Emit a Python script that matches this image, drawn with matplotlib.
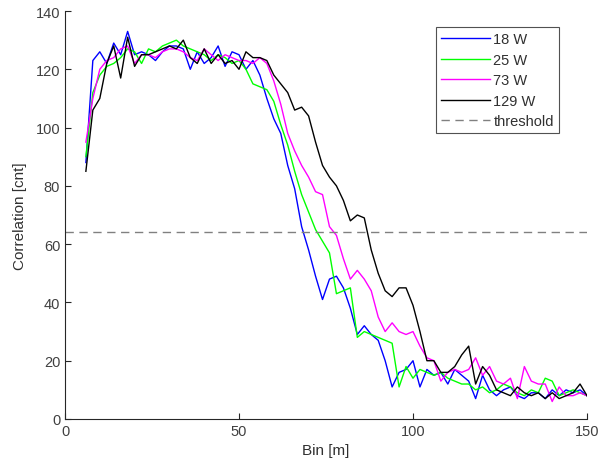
import numpy as np
import matplotlib
matplotlib.use("Agg")
import matplotlib.pyplot as plt

plt.rcParams['font.family'] = ['Liberation Sans', 'DejaVu Sans']

# bin positions [m]
bins = np.arange(6, 151, 2)

# correlation per power level
corr_18w = [88, 123, 126, 122, 129, 125, 133, 125, 126, 125, 123, 126, 128, 128, 127, 120,
            126, 122, 124, 128, 121, 126, 125, 120, 123, 118, 110, 103, 98, 87, 79, 66,
            58, 49, 41, 48, 49, 45, 38, 29, 32, 29, 27, 20, 11, 16, 17, 20, 11, 17,
            15, 16, 12, 17, 15, 13, 7, 15, 10, 8, 10, 11, 8, 7, 9, 9,
            7, 10, 8, 10, 9, 10, 8]
corr_25w = [90, 112, 118, 121, 122, 124, 127, 126, 122, 127, 126, 128, 129, 130, 128, 127,
            126, 125, 123, 125, 124, 122, 123, 120, 115, 114, 113, 109, 101, 94, 85, 77,
            71, 65, 61, 57, 43, 44, 45, 28, 30, 29, 28, 27, 26, 11, 18, 14, 17, 16,
            15, 16, 14, 13, 12, 12, 10, 11, 9, 10, 12, 11, 9, 8, 10, 9,
            14, 13, 8, 9, 10, 9, 8]
corr_73w = [95, 110, 120, 123, 124, 127, 128, 122, 125, 125, 124, 126, 127, 127, 126, 124,
            123, 127, 125, 123, 125, 124, 123, 123, 122, 124, 122, 116, 108, 98, 92, 87,
            83, 78, 77, 66, 63, 55, 48, 51, 48, 44, 35, 30, 33, 30, 29, 30, 25, 21,
            20, 13, 16, 17, 16, 17, 21, 15, 18, 13, 12, 14, 7, 18, 13, 12,
            12, 6, 11, 8, 8, 9, 8]
corr_129w = [85, 106, 110, 122, 128, 117, 131, 121, 125, 125, 126, 127, 128, 127, 130, 124,
             122, 127, 122, 125, 122, 123, 120, 126, 124, 124, 123, 118, 115, 112, 106, 107,
             104, 95, 87, 83, 80, 75, 68, 70, 69, 58, 50, 44, 42, 45, 45, 39, 30, 20,
             20, 16, 16, 18, 22, 25, 12, 18, 15, 10, 9, 8, 11, 9, 8, 9,
             7, 9, 7, 8, 9, 12, 8]
threshold = 64

series = [("18 W", corr_18w, "#0000ff"),
          ("25 W", corr_25w, "#00ff00"),
          ("73 W", corr_73w, "#ff00ff"),
          ("129 W", corr_129w, "#000000")]

fig = plt.figure(figsize=(5.99, 4.77), dpi=100)
ax = fig.add_axes([65/599, 57/477, 522/599, 408/477])

for label, vals, col in series:
    ax.plot(bins, vals, color=col, lw=1.0, label=label)
ax.axhline(threshold, color="#808080", ls=(0, (6, 4)), lw=1.0, label="threshold")

ax.set_xlim(0, 150)
ax.set_ylim(0, 140)
ax.set_xticks([0, 50, 100, 150])
ax.set_yticks(np.arange(0, 141, 20))
ax.spines['top'].set_visible(False)
ax.spines['right'].set_visible(False)
for s in ['left', 'bottom']:
    ax.spines[s].set_color("#262626")
    ax.spines[s].set_linewidth(0.8)
ax.tick_params(direction='in', length=4, colors="#262626", labelsize=10.5, width=0.8)
for t in ax.get_xticklabels() + ax.get_yticklabels():
    t.set_color("#404040")
ax.set_xlabel("Bin [m]", fontsize=11, color="#303030")
ax.set_ylabel("Correlation [cnt]", fontsize=11, color="#303030", labelpad=6)

leg = ax.legend(loc="upper right", bbox_to_anchor=((559 - 65) / 522, 1 - 16 / 408),
                bbox_transform=ax.transAxes, fontsize=10.5, frameon=True, fancybox=False,
                edgecolor="#262626", handlelength=3.4, handletextpad=0.2,
                borderpad=0.35, labelspacing=0.45, borderaxespad=0)
leg.get_frame().set_linewidth(0.8)
for t in leg.get_texts():
    t.set_color("#303030")

fig.savefig("out.png", dpi=100)
